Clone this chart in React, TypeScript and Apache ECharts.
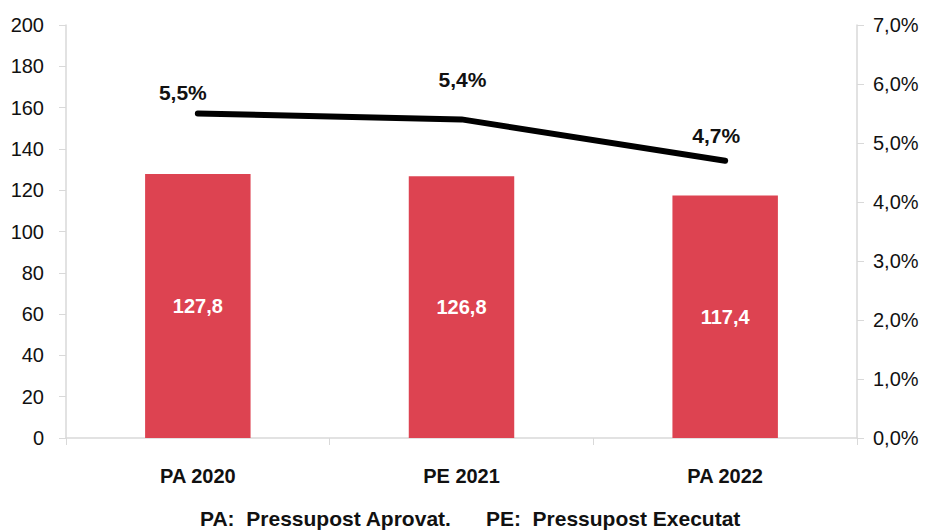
import React, { useEffect, useRef } from "react";
import * as echarts from "echarts";

const categories = ["PA 2020", "PE 2021", "PA 2022"];
const budgetValues = [127.8, 126.8, 117.4];
const ratioValues = [5.5, 5.4, 4.7];
const leftTicks = { min: 0, max: 200, interval: 20 };
const rightTicks = { min: 0, max: 7, interval: 1 };
const footnote = "PA:  Pressupost Aprovat.      PE:  Pressupost Executat";

const lineLabelOffsets = [
  [-15, -2],
  [1, -21],
  [-9, -6],
];

const fmt = (v: number, d: number) => v.toFixed(d).replace(".", ",");

export default function App() {
  const ref = useRef<HTMLDivElement>(null);
  useEffect(() => {
    const chart = echarts.init(ref.current!, null, { renderer: "svg" });
    const font = "'Liberation Sans', Arial, Helvetica, sans-serif";
    const gray = "#d9d9d9";
    chart.setOption({
      animation: false,
      textStyle: { fontFamily: font },
      grid: { left: 66, right: 71, top: 25, bottom: 93 },
      xAxis: {
        type: "category",
        data: categories,
        boundaryGap: true,
        axisLine: { lineStyle: { color: gray, width: 1.5 } },
        axisTick: { show: true, length: 7, alignWithLabel: false, lineStyle: { color: gray } },
        axisLabel: { color: "#111", fontSize: 20, fontWeight: "bold", margin: 28, fontFamily: font },
      },
      yAxis: [
        {
          type: "value",
          ...leftTicks,
          position: "left",
          splitLine: { show: false },
          axisLine: { show: true, lineStyle: { color: gray, width: 1.5 } },
          axisTick: { show: true, length: 7, lineStyle: { color: gray } },
          axisLabel: { color: "#111", fontSize: 20, margin: 22, fontFamily: font },
        },
        {
          type: "value",
          ...rightTicks,
          position: "right",
          splitLine: { show: false },
          axisLine: { show: true, lineStyle: { color: gray, width: 1.5 } },
          axisTick: { show: true, length: 7, lineStyle: { color: gray } },
          axisLabel: {
            color: "#111",
            fontSize: 20,
            margin: 16,
            fontFamily: font,
            formatter: (v: number) => fmt(v, 1) + "%",
          },
        },
      ],
      series: [
        {
          type: "bar",
          yAxisIndex: 0,
          data: budgetValues,
          barWidth: "40%",
          itemStyle: { color: "#DD4351" },
          label: {
            show: true,
            position: "inside",
            color: "#fff",
            fontSize: 20,
            fontWeight: "bold",
            fontFamily: font,
            formatter: (p: any) => fmt(p.value, 1),
          },
        },
        {
          type: "line",
          yAxisIndex: 1,
          data: ratioValues.map((v, i) => ({
            value: v,
            label: { offset: lineLabelOffsets[i] },
          })),
          symbol: "circle",
          symbolSize: 1,
          showSymbol: true,
          itemStyle: { color: "#000" },
          lineStyle: { color: "#000", width: 6, cap: "round", join: "round" },
          label: {
            show: true,
            position: "top",
            distance: 8,
            color: "#111",
            fontSize: 21,
            fontWeight: "bold",
            fontFamily: font,
            formatter: (p: any) => fmt(p.value, 1) + "%",
          },
        },
      ],
      graphic: [
        {
          type: "text",
          left: 200,
          top: 508,
          style: {
            text: footnote,
            fontSize: 21,
            fontWeight: "bold",
            fill: "#111",
            fontFamily: font,
          },
        },
      ],
    });
    return () => chart.dispose();
  }, []);
  return <div ref={ref} style={{ width: 928, height: 531, position: "absolute", left: 0, top: 0 }} />;
}
